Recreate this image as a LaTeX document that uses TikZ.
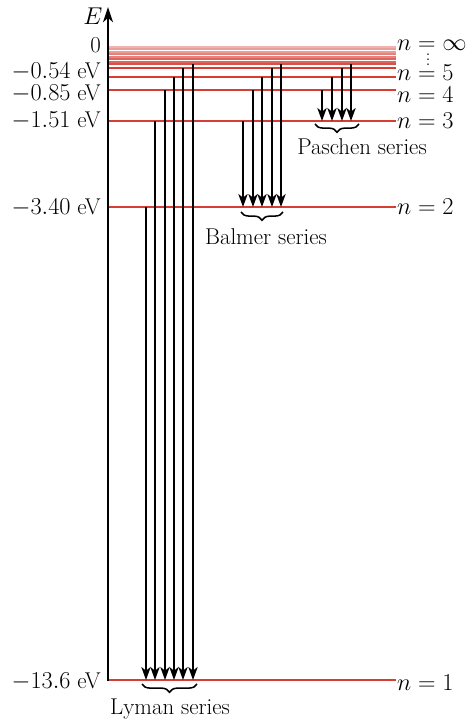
\documentclass[tikz,border=0pt]{standalone}
\usepackage{amsmath}
\usepackage{tikz}
\usetikzlibrary{arrows.meta,decorations.pathreplacing}
\definecolor{levelred}{RGB}{214,62,52}
\newcommand{\hydfont}{\linespread{1}\fontsize{19.5}{23}\selectfont}
\newcommand{\hyddotfont}{\linespread{1}\fontsize{14}{14}\selectfont}
\tikzset{
    hyd/chart/.style={font=\hydfont, x=0.03cm, y=-0.03cm},
    hyd/axis/.style={-{Stealth[length=4.6mm,width=3mm,inset=1.4mm]}, line width=1.5pt, draw=black},
    hyd/level/.style={draw=levelred, line width=1.4pt},
    hyd/arrow/.style={-{Stealth[length=3.9mm,width=2.8mm,inset=1.1mm]}, line width=1.4pt, draw=black},
    hyd/energy/.style={anchor=east, inner sep=0pt},
    hyd/quantum/.style={anchor=west, inner sep=0pt},
    hyd/dot/.style={font=\hyddotfont, inner sep=0pt, anchor=base},
    hyd/brace/.style={decorate, decoration={brace,mirror,amplitude=7pt}, line width=1.3pt},
    hyd/series/.style={inner sep=0pt}
}

\begin{document}
\begin{tikzpicture}[hyd/chart]
    \useasboundingbox (0,0) rectangle (466,723);
    % levels, left end on the axis
    \foreach \name/\y in {n1/680,n2/207,n3/121,n4/90,n5/77.3,n6/68.3,n7/63.5}
        \coordinate (\name) at (108,\y);
    \foreach \y/\shade in {46.7/40,49/50,51.7/50,54.3/65,56.7/65,59.3/80,62/80,64.2/90}
        \draw[hyd/level, draw=levelred!\shade] (108,\y) -- (396,\y);
    \foreach \name in {n1,n2,n3,n4,n5,n6}
        \draw[hyd/level] (\name) -- ++(288,0);
    \coordinate (top) at (108,7);
    \draw[hyd/axis] (108,681) -- (top);
    \node[inner sep=0pt] (E) at (93,16) {$E$};
    % energies
    \node[hyd/energy] (e0) at (101,45) {0};
    \node[hyd/energy] (e5) at (101,72) {$-0.54$ eV};
    \node[hyd/energy] (e4) at (101,94) {$-0.85$ eV};
    \node[hyd/energy] (e3) at (101,121) {$-1.51$ eV};
    \node[hyd/energy] (e2) at (101,208) {$-3.40$ eV};
    \node[hyd/energy] (e1) at (101,682) {$-13.6$ eV};
    % quantum numbers
    \node[hyd/quantum] (qinf) at (397,45) {$n = \infty$};
    \node[hyd/quantum] (q5) at (397,73) {$n = 5$};
    \node[hyd/quantum] (q4) at (397,95) {$n = 4$};
    \node[hyd/quantum] (q3) at (397,121) {$n = 3$};
    \node[hyd/quantum] (q2) at (397,207) {$n = 2$};
    \node[hyd/quantum] (q1) at (397,683) {$n = 1$};
    \node[hyd/dot] (dots) at (428,65.3) {$\vdots$};
    % transitions
    \foreach \x/\source/\target in {146/n2/n1,155/n3/n1,165/n4/n1,174/n5/n1,183/n6/n1,193/n7/n1,
        243/n3/n2,253/n4/n2,262/n5/n2,272/n6/n2,281/n7/n2,
        322/n4/n3,332/n5/n3,342/n6/n3,351/n7/n3}
        \draw[hyd/arrow] (\source -| \x,0) -- (\target -| \x,0);
    % series
    \draw[hyd/brace] (142,684) -- (197,684);
    \node[hyd/series] (lyman) at (170,709) {Lyman series};
    \draw[hyd/brace] (241,212) -- (283,212);
    \node[hyd/series] (balmer) at (266,237) {Balmer series};
    \draw[hyd/brace] (315,124) -- (359,124);
    \node[hyd/series] (paschen) at (362,147) {Paschen series};
\end{tikzpicture}
\end{document}
